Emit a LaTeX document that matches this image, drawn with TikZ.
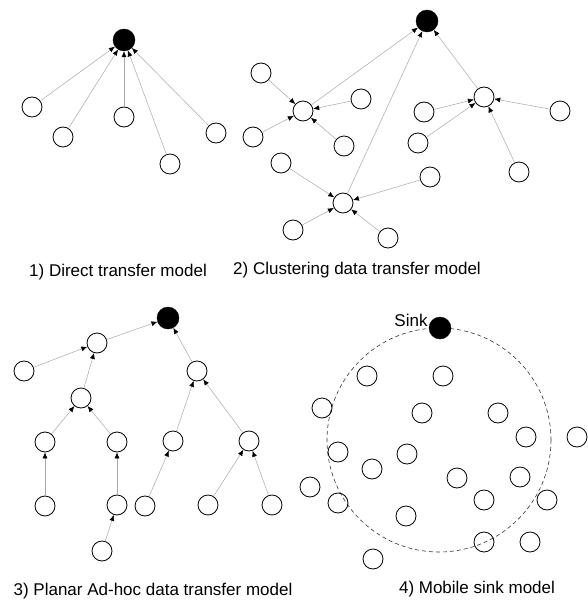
\documentclass[tikz,border=0pt]{standalone}
\usepackage{fontspec}
\setmainfont{Liberation Sans}
\usetikzlibrary{arrows.meta}
\definecolor{linkgray}{HTML}{A8A8A8}
\definecolor{ringgray}{HTML}{333333}

\begin{document}
\begin{tikzpicture}[x=1pt,y=-1pt,
  sensor/.style={circle,draw,line width=0.8pt,minimum size=20pt,inner sep=0pt},
  sinknode/.style={circle,draw,fill=black,minimum size=22pt,inner sep=0pt},
  link/.style={linkgray,line width=0.5pt,-{Latex[black,length=6pt,width=5pt]}},
  caption/.style={font=\fontsize{17}{20}\selectfont}]
\useasboundingbox (0,0) rectangle (587,602);

% 1) direct transfer
\node[sinknode] (sinkA) at (124,40) {};
\node[sensor] (a1) at (32,107) {};
\node[sensor] (a2) at (63,137) {};
\node[sensor] (a3) at (124,117) {};
\node[sensor] (a4) at (170,164) {};
\node[sensor] (a5) at (216,133) {};
\foreach \a in {a1,a2,a3,a4,a5}
  \draw[link] (\a)--(sinkA);
\node[caption] (capA) at (118,272) {1) Direct transfer model};

% 2) clustering
\node[sinknode] (sinkB) at (427,21) {};
\node[sensor] (headL) at (303,111) {};
\node[sensor] (headR) at (484,97) {};
\node[sensor] (headC) at (343,203) {};
\node[sensor] (l1) at (261,73) {};
\node[sensor] (l2) at (361,99) {};
\node[sensor] (l3) at (253,137) {};
\node[sensor] (l4) at (344,146) {};
\node[sensor] (r1) at (424,112) {};
\node[sensor] (r2) at (418,143) {};
\node[sensor] (r3) at (560,111) {};
\node[sensor] (r4) at (519,172) {};
\node[sensor] (c1) at (281,163) {};
\node[sensor] (c2) at (430,177) {};
\node[sensor] (c3) at (293,230) {};
\node[sensor] (c4) at (388,238) {};
\foreach \a/\b in {headL/sinkB,headR/sinkB,headC/sinkB,
  l1/headL,l2/headL,l3/headL,l4/headL,
  r1/headR,r2/headR,r3/headR,r4/headR,
  c1/headC,c2/headC,c3/headC,c4/headC}
  \draw[link] (\a)--(\b);
\node[caption] (capB) at (357,270) {2) Clustering data transfer model};

% 3) planar ad-hoc
\node[sinknode] (sinkC) at (168,318) {};
\node[sensor] (p1) at (97,343) {};
\node[sensor] (p2) at (24,371) {};
\node[sensor] (p3) at (81,398) {};
\node[sensor] (p4) at (45,442) {};
\node[sensor] (p5) at (117,442) {};
\node[sensor] (p6) at (45,506) {};
\node[sensor] (p7) at (117,505) {};
\node[sensor] (p8) at (102,551) {};
\node[sensor] (q1) at (197,371) {};
\node[sensor] (q2) at (173,441) {};
\node[sensor] (q3) at (249,441) {};
\node[sensor] (q4) at (145,506) {};
\node[sensor] (q5) at (208,505) {};
\node[sensor] (q6) at (272,505) {};
\foreach \a/\b in {p1/sinkC,p2/p1,p3/p1,p4/p3,p5/p3,p6/p4,p7/p5,p8/p7,
  q1/sinkC,q2/q1,q3/q1,q4/q2,q5/q3,q6/q3}
  \draw[link] (\a)--(\b);
\node[caption] (capC) at (153,591) {3) Planar Ad-hoc data transfer model};

% 4) mobile sink
\draw[ringgray,line width=0.6pt,dash pattern=on 4pt off 3pt] (439,440) circle[radius=112];
\node[sinknode] (sinkD) at (440,328) {};
\node[caption,left=1pt] (sinkname) at (sinkD.north west) {Sink};
\foreach \x/\y [count=\i] in {367/376,443/376,322/408,422/413,498/413,526/437,577/437,
  338/452,407/454,372/469,457/478,520/477,310/487,338/503,484/500,547/500,
  406/516,484/542,530/542,373/559}
  \node[sensor] (m\i) at (\x,\y) {};
\node[caption] (capD) at (477,589) {4) Mobile sink model};
\end{tikzpicture}
\end{document}
